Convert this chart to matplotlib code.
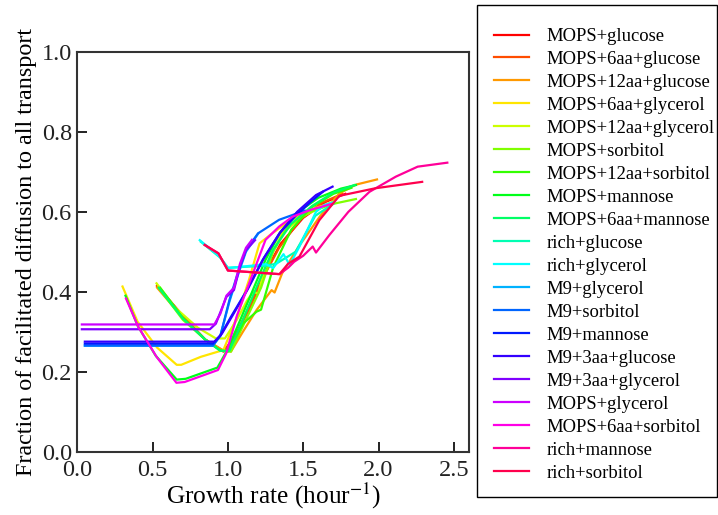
import matplotlib
matplotlib.use("Agg")
import matplotlib.pyplot as plt
from matplotlib.colors import hsv_to_rgb
from matplotlib.patches import Rectangle

plt.rcParams['font.family'] = ['Liberation Serif', 'DejaVu Serif']
plt.rcParams['mathtext.fontset'] = 'stix'

media = ['MOPS+glucose', 'MOPS+6aa+glucose', 'MOPS+12aa+glucose', 'MOPS+6aa+glycerol',
         'MOPS+12aa+glycerol', 'MOPS+sorbitol', 'MOPS+12aa+sorbitol', 'MOPS+mannose',
         'MOPS+6aa+mannose', 'rich+glucose', 'rich+glycerol', 'M9+glycerol',
         'M9+sorbitol', 'M9+mannose', 'M9+3aa+glucose', 'M9+3aa+glycerol',
         'MOPS+glycerol', 'MOPS+6aa+sorbitol', 'rich+mannose', 'rich+sorbitol']

# growth rate (1/h) and fraction of facilitated diffusion for each medium
mops_glc_x = [0.53, 0.70, 0.85, 0.97, 1.05, 1.15, 1.25, 1.35, 1.50, 1.65, 1.78]
mops_glc_y = [0.415, 0.34, 0.28, 0.25, 0.29, 0.37, 0.45, 0.52, 0.585, 0.625, 0.645]
mops_6aa_glc_x = [0.53, 0.70, 0.85, 0.97, 1.04, 1.14, 1.24, 1.34, 1.48, 1.62, 1.76]
mops_6aa_glc_y = [0.413, 0.338, 0.28, 0.252, 0.28, 0.355, 0.44, 0.51, 0.58, 0.622, 0.645]
mops_12aa_glc_x = [0.53, 0.70, 0.85, 0.96, 1.02, 1.10, 1.19, 1.29, 1.31, 1.36, 1.47, 1.61, 1.74, 1.85, 1.99]
mops_12aa_glc_y = [0.41, 0.335, 0.28, 0.255, 0.25, 0.30, 0.354, 0.404, 0.398, 0.446, 0.513, 0.588, 0.646, 0.668, 0.681]
mops_6aa_gly_x = [0.30, 0.40, 0.53, 0.66, 0.69, 0.82, 0.97, 1.06, 1.14, 1.21, 1.28, 1.40, 1.55, 1.70]
mops_6aa_gly_y = [0.413, 0.325, 0.26, 0.217, 0.217, 0.237, 0.254, 0.337, 0.43, 0.521, 0.542, 0.575, 0.605, 0.625]
mops_12aa_gly_x = [0.526, 0.65, 0.80, 0.92, 0.98, 1.06, 1.13, 1.17, 1.20, 1.25, 1.36, 1.50, 1.62]
mops_12aa_gly_y = [0.421, 0.36, 0.31, 0.283, 0.283, 0.33, 0.38, 0.40, 0.395, 0.463, 0.546, 0.59, 0.61]
mops_sor_x = [0.55, 0.70, 0.85, 0.945, 1.02, 1.12, 1.22, 1.30, 1.40, 1.55, 1.70, 1.85]
mops_sor_y = [0.405, 0.33, 0.28, 0.254, 0.25, 0.33, 0.41, 0.50, 0.565, 0.60, 0.62, 0.632]
mops_12aa_sor_x = [0.55, 0.70, 0.85, 0.95, 1.00, 1.10, 1.19, 1.22, 1.30, 1.42, 1.55, 1.70, 1.82]
mops_12aa_sor_y = [0.41, 0.335, 0.28, 0.253, 0.25, 0.32, 0.35, 0.355, 0.46, 0.555, 0.61, 0.645, 0.66]
mops_man_x = [0.32, 0.40, 0.52, 0.66, 0.72, 0.93, 0.99, 1.06, 1.15, 1.25, 1.35, 1.45, 1.60, 1.75, 1.85]
mops_man_y = [0.39, 0.315, 0.24, 0.18, 0.182, 0.21, 0.25, 0.31, 0.39, 0.48, 0.55, 0.595, 0.635, 0.658, 0.667]
mops_6aa_man_x = [0.54, 0.70, 0.85, 0.95, 1.01, 1.10, 1.20, 1.30, 1.42, 1.56, 1.70, 1.84]
mops_6aa_man_y = [0.41, 0.333, 0.28, 0.252, 0.252, 0.33, 0.42, 0.505, 0.57, 0.615, 0.648, 0.667]
rich_glc_x = [0.82, 0.95, 1.00, 1.25, 1.32, 1.45, 1.58, 1.70]
rich_glc_y = [0.525, 0.485, 0.46, 0.465, 0.47, 0.50, 0.59, 0.62]
rich_gly_x = [0.813, 0.945, 1.00, 1.254, 1.30, 1.369, 1.41, 1.475, 1.585, 1.64, 1.707]
rich_gly_y = [0.529, 0.488, 0.459, 0.469, 0.459, 0.494, 0.467, 0.513, 0.60, 0.617, 0.625]
m9_gly_x = [0.05, 0.90, 0.95, 1.01, 1.06, 1.12, 1.20]
m9_gly_y = [0.265, 0.265, 0.29, 0.375, 0.435, 0.50, 0.545]
m9_sor_x = [0.05, 0.90, 0.95, 1.01, 1.06, 1.12, 1.20, 1.34, 1.51]
m9_sor_y = [0.265, 0.265, 0.29, 0.379, 0.44, 0.504, 0.546, 0.58, 0.603]
m9_man_x = [0.05, 0.90, 0.95, 1.02, 1.12, 1.23, 1.342, 1.45, 1.55, 1.63]
m9_man_y = [0.27, 0.27, 0.29, 0.337, 0.40, 0.479, 0.546, 0.59, 0.625, 0.65]
m9_3aa_glc_x = [0.05, 0.91, 0.96, 1.03, 1.13, 1.24, 1.35, 1.46, 1.585, 1.695]
m9_3aa_glc_y = [0.275, 0.275, 0.295, 0.34, 0.405, 0.485, 0.55, 0.60, 0.642, 0.663]
m9_3aa_gly_x = [0.03, 0.88, 0.92, 0.99, 1.04, 1.08, 1.12, 1.18]
m9_3aa_gly_y = [0.306, 0.306, 0.32, 0.387, 0.404, 0.463, 0.504, 0.529]
mops_gly_x = [0.03, 0.91, 0.95, 0.99, 1.04, 1.08, 1.12, 1.16]
mops_gly_y = [0.318, 0.318, 0.345, 0.39, 0.41, 0.47, 0.51, 0.53]
mops_6aa_sor_x = [0.323, 0.405, 0.526, 0.658, 0.713, 0.934, 0.989, 1.06, 1.166, 1.25, 1.34, 1.43, 1.55, 1.69]
mops_6aa_sor_y = [0.383, 0.312, 0.237, 0.172, 0.174, 0.204, 0.246, 0.34, 0.446, 0.53, 0.563, 0.588, 0.605, 0.62]
rich_man_x = [0.846, 0.937, 1.00, 1.342, 1.40, 1.44, 1.50, 1.563, 1.585, 1.674, 1.80, 1.94, 2.115, 2.26, 2.457]
rich_man_y = [0.517, 0.496, 0.453, 0.444, 0.46, 0.475, 0.49, 0.513, 0.498, 0.542, 0.60, 0.65, 0.688, 0.713, 0.723]
rich_sor_x = [0.846, 0.937, 1.00, 1.342, 1.40, 1.475, 1.607, 1.74, 1.98, 2.29]
rich_sor_y = [0.517, 0.496, 0.453, 0.444, 0.47, 0.488, 0.579, 0.64, 0.659, 0.675]

curves = [(mops_glc_x, mops_glc_y), (mops_6aa_glc_x, mops_6aa_glc_y),
          (mops_12aa_glc_x, mops_12aa_glc_y), (mops_6aa_gly_x, mops_6aa_gly_y),
          (mops_12aa_gly_x, mops_12aa_gly_y), (mops_sor_x, mops_sor_y),
          (mops_12aa_sor_x, mops_12aa_sor_y), (mops_man_x, mops_man_y),
          (mops_6aa_man_x, mops_6aa_man_y), (rich_glc_x, rich_glc_y),
          (rich_gly_x, rich_gly_y), (m9_gly_x, m9_gly_y), (m9_sor_x, m9_sor_y),
          (m9_man_x, m9_man_y), (m9_3aa_glc_x, m9_3aa_glc_y),
          (m9_3aa_gly_x, m9_3aa_gly_y), (mops_gly_x, mops_gly_y),
          (mops_6aa_sor_x, mops_6aa_sor_y), (rich_man_x, rich_man_y),
          (rich_sor_x, rich_sor_y)]

W, H = 718, 515
fig = plt.figure(figsize=(W / 100, H / 100), dpi=100)
ax = fig.add_axes([0.1077, 0.1233, 0.5453, 0.7757])

for i, (name, (x, y)) in enumerate(zip(media, curves)):
    color = hsv_to_rgb((i / 20, 1.0, 1.0))
    ax.plot(x, y, color=color, lw=1.6, label=name)

ax.set_xlim(0, 2.6)
ax.set_ylim(0, 1.0)
ax.set_xticks([0.0, 0.5, 1.0, 1.5, 2.0, 2.5])
ax.set_yticks([0.0, 0.2, 0.4, 0.6, 0.8, 1.0])
ax.xaxis.set_major_formatter(matplotlib.ticker.FormatStrFormatter('%.1f'))
ax.yaxis.set_major_formatter(matplotlib.ticker.FormatStrFormatter('%.1f'))
ax.tick_params(direction='in', length=7, width=1.4, labelsize=17.5, colors='#222222')
ax.tick_params(axis='x', pad=6)
ax.tick_params(axis='y', pad=4)
for s in ax.spines.values():
    s.set_linewidth(1.5)
    s.set_color('#333333')

ax.set_xlabel('Growth rate (hour$^{-1}$)', fontsize=18.3, labelpad=0)
ax.set_ylabel('Fraction of facilitated diffusion to all transport', fontsize=17.4, labelpad=3)

# legend entries without their own frame; the box is drawn separately
leg = fig.legend(loc='upper left', bbox_to_anchor=(494 / W, 1 - 28 / H),
                 fontsize=13.4, frameon=False, labelspacing=0.32,
                 handlelength=1.9, handletextpad=0.9, borderpad=0, borderaxespad=0)
fig.patches.append(Rectangle((477 / W, 1 - 497 / H), 239.5 / W, 492 / H,
                             transform=fig.transFigure, fill=False,
                             edgecolor='black', linewidth=1.0))

fig.savefig('out.png', dpi=100)
